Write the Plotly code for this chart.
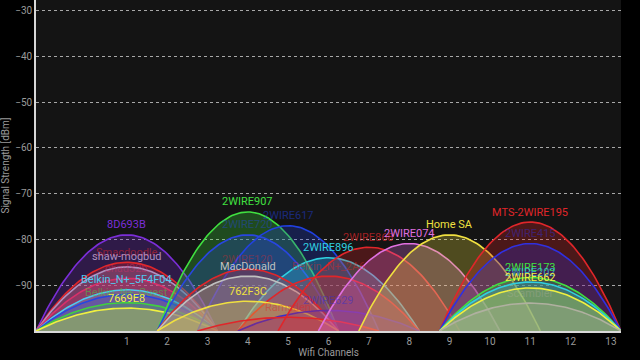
import numpy as np
import plotly.graph_objects as go

# ---- data ----
names = ["8D693B", "Smacdoodle", "shaw-mogbud", "chad32b", "Belkin_N+_5F4F04", "2WIRE5B1",
         "Belkin_N+_Guest", "7669E8",
         "2WIRE907", "2WIRE617", "2WIRE720", "2WIRE896", "2WIRE120", "MacDonald", "Belkin_N+_2A6",
         "762F3C", "2WIRE629", "Ramsden",
         "2WIRE868", "2WIRE074", "Home SA",
         "MTS-2WIRE195", "2WIRE415", "2WIRE173", "2WIRE202", "2WIRE662", "Scambler"]
channels = [1, 1, 1, 1, 1, 1, 1, 1,
            4, 5, 4, 6, 4, 4, 6, 4, 6, 5,
            7, 8, 9,
            11, 11, 11, 11, 11, 11]
peaks = [-79, -85, -86, -88.5, -91, -92, -93.8, -95,
         -74, -77, -79, -84, -86.5, -88, -88, -93.5, -95.5, -97,
         -81.7, -80.9, -79,
         -76.2, -80.9, -88.3, -89.3, -90.6, -93.9]
colors = ["#7b2ed8", "#e0262a", "#b090c0", "#d8306a", "#50c8f0", "#2846e0", "#40d040", "#f0f040",
          "#40e040", "#2040e0", "#2846e0", "#30d0e0", "#e0262a", "#c0c0c0", "#e0262a",
          "#f0e040", "#3a30c8", "#e0262a",
          "#e0262a", "#e070e0", "#f0e040",
          "#e0262a", "#3030e0", "#40e040", "#30d0e0", "#f0f040", "#b0b0a0"]
label_alpha = [1, 0.55, 1, 0.45, 1, 0, 0.5, 1,
               1, 0.5, 0.45, 1, 0.4, 1, 0.45, 1, 0.55, 0.45,
               0.7, 1, 1,
               1, 0.45, 1, 0.75, 1, 0.35]
ytick_vals = [-30, -40, -50, -60, -70, -80, -90]
xtick_vals = list(range(1, 14))

HALF = 2.25
FLOOR = -100


def rgba(h, a):
    h = h.lstrip("#")
    r, g, b = int(h[0:2], 16), int(h[2:4], 16), int(h[4:6], 16)
    return f"rgba({r},{g},{b},{a})"


fig = go.Figure()
for n, c, p, col in zip(names, channels, peaks, colors):
    x = np.linspace(c - HALF, c + HALF, 81)
    y = FLOOR + (p - FLOOR) * (1 - ((x - c) / HALF) ** 2)
    fig.add_trace(go.Scatter(x=x, y=y, mode="lines", fill="toself",
                             fillcolor=rgba(col, 0.27),
                             line=dict(color=col, width=1.6),
                             hoverinfo="skip", showlegend=False))

for n, c, p, col, a in zip(names, channels, peaks, colors, label_alpha):
    if a <= 0:
        continue
    fig.add_annotation(x=c, y=p, text=n, showarrow=False, yshift=10,
                       font=dict(family="Roboto", size=11, color=rgba(col, a)))

fig.update_layout(
    width=640, height=360,
    margin=dict(l=36, r=19, t=0, b=29),
    paper_bgcolor="#000000",
    plot_bgcolor="#141414",
    font=dict(family="Roboto", color="#9a9a9a", size=10),
    xaxis=dict(range=[-1.25, 13.25], tickvals=xtick_vals, showgrid=False,
               zeroline=False, showline=True, linecolor="#d8d8d8", linewidth=1.5,
               ticks="", tickfont=dict(size=10, color="#9a9a9a"),
               title=dict(text="Wifi Channels", font=dict(size=10, color="#9a9a9a"), standoff=2)),
    yaxis=dict(range=[-100, -27.7], tickvals=ytick_vals, showgrid=True,
               gridcolor="#a8a8a8", griddash="dot", gridwidth=1,
               zeroline=False, showline=True, linecolor="#d8d8d8", linewidth=1.5,
               ticks="", tickfont=dict(size=10, color="#9a9a9a"),
               title=dict(text="Signal Strength [dBm]", font=dict(size=10, color="#9a9a9a"), standoff=6)),
)

fig.write_html("out.html")
